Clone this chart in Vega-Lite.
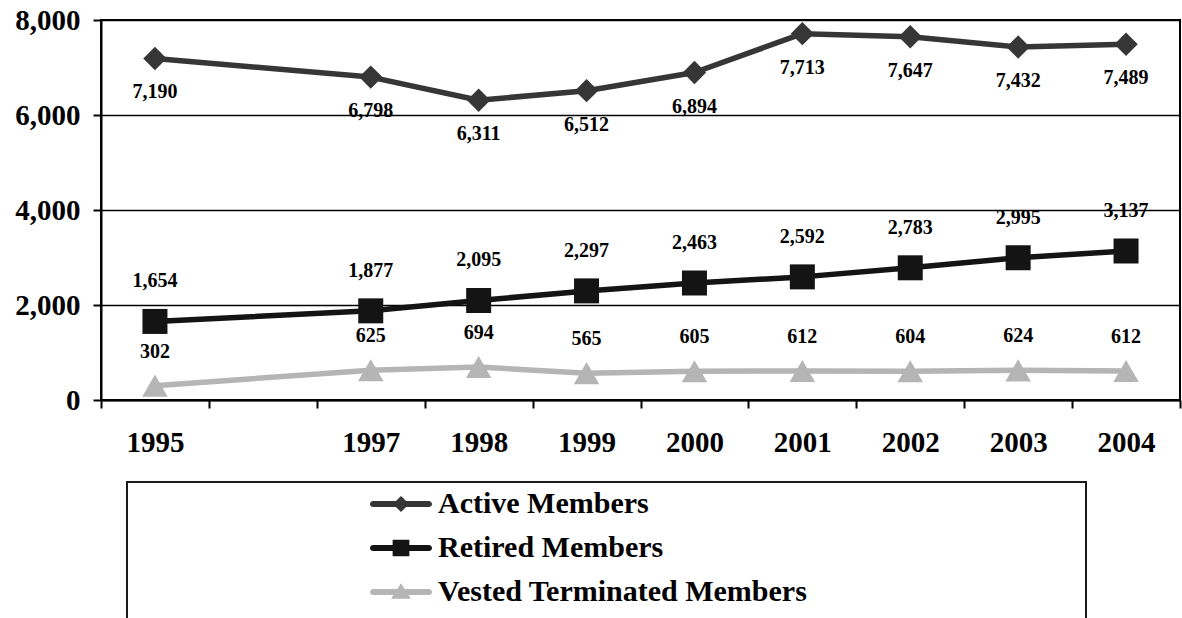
{
  "$schema": "https://vega.github.io/schema/vega-lite/v6.json",
  "width": 1079,
  "height": 380,
  "autosize": {"type": "none"},
  "padding": {"left": 101, "top": 20, "right": 2, "bottom": 218},
  "background": "white",
  "config": {
    "font": "Liberation Serif",
    "view": {"stroke": "black", "strokeWidth": 2}
  },
  "data": {
    "values": [
      {"year": "1995", "series": "Active Members", "value": 7190},
      {"year": "1997", "series": "Active Members", "value": 6798},
      {"year": "1998", "series": "Active Members", "value": 6311},
      {"year": "1999", "series": "Active Members", "value": 6512},
      {"year": "2000", "series": "Active Members", "value": 6894},
      {"year": "2001", "series": "Active Members", "value": 7713},
      {"year": "2002", "series": "Active Members", "value": 7647},
      {"year": "2003", "series": "Active Members", "value": 7432},
      {"year": "2004", "series": "Active Members", "value": 7489},
      {"year": "1995", "series": "Retired Members", "value": 1654},
      {"year": "1997", "series": "Retired Members", "value": 1877},
      {"year": "1998", "series": "Retired Members", "value": 2095},
      {"year": "1999", "series": "Retired Members", "value": 2297},
      {"year": "2000", "series": "Retired Members", "value": 2463},
      {"year": "2001", "series": "Retired Members", "value": 2592},
      {"year": "2002", "series": "Retired Members", "value": 2783},
      {"year": "2003", "series": "Retired Members", "value": 2995},
      {"year": "2004", "series": "Retired Members", "value": 3137},
      {"year": "1995", "series": "Vested Terminated Members", "value": 302},
      {"year": "1997", "series": "Vested Terminated Members", "value": 625},
      {"year": "1998", "series": "Vested Terminated Members", "value": 694},
      {"year": "1999", "series": "Vested Terminated Members", "value": 565},
      {"year": "2000", "series": "Vested Terminated Members", "value": 605},
      {"year": "2001", "series": "Vested Terminated Members", "value": 612},
      {"year": "2002", "series": "Vested Terminated Members", "value": 604},
      {"year": "2003", "series": "Vested Terminated Members", "value": 624},
      {"year": "2004", "series": "Vested Terminated Members", "value": 612}
    ]
  },
  "encoding": {
    "x": {
      "field": "year",
      "type": "ordinal",
      "sort": null,
      "scale": {
        "type": "band",
        "domain": ["1995", "1996", "1997", "1998", "1999", "2000", "2001", "2002", "2003", "2004"],
        "paddingInner": 0,
        "paddingOuter": 0
      },
      "axis": {
        "title": null,
        "labelExpr": "datum.value === '1996' ? '' : datum.label",
        "labelAngle": 0,
        "labelFont": "Liberation Serif",
        "labelFontSize": 29,
        "labelFontWeight": "bold",
        "labelColor": "black",
        "labelPadding": 20,
        "tickBand": "extent",
        "tickSize": 8,
        "tickWidth": 2,
        "tickColor": "black",
        "domainColor": "black",
        "domainWidth": 2,
        "grid": false
      }
    },
    "y": {
      "field": "value",
      "type": "quantitative",
      "scale": {"domain": [0, 8000], "nice": false},
      "axis": {
        "title": null,
        "values": [0, 2000, 4000, 6000, 8000],
        "format": ",.0f",
        "labelFont": "Liberation Serif",
        "labelFontSize": 29,
        "labelFontWeight": "bold",
        "labelColor": "black",
        "labelPadding": 13,
        "tickSize": 8,
        "tickWidth": 2,
        "tickColor": "black",
        "domainColor": "black",
        "domainWidth": 2,
        "grid": true,
        "gridColor": "black",
        "gridWidth": 1.5,
        "gridOpacity": 1
      }
    }
  },
  "layer": [
    {
      "mark": {"type": "line", "strokeWidth": 5.5, "strokeCap": "round", "strokeJoin": "round"},
      "encoding": {
        "color": {
          "field": "series",
          "type": "nominal",
          "scale": {
            "domain": ["Active Members", "Retired Members", "Vested Terminated Members"],
            "range": ["#363636", "#141414", "#b5b5b5"]
          },
          "legend": {
            "orient": "none",
            "legendX": 26,
            "legendY": 462,
            "title": " ",
            "titleOrient": "right",
            "titleAnchor": "end",
            "titleBaseline": "top",
            "titleLineHeight": 1,
            "titlePadding": 272,
            "titleFontSize": 40,
            "padding": 7,
            "symbolOffset": 236,
            "labelOffset": 6,
            "symbolSize": 3844,
            "clipHeight": 30,
            "rowPadding": 14,
            "labelFont": "Liberation Serif",
            "labelFontSize": 30,
            "labelFontWeight": "bold",
            "labelColor": "black",
            "labelLimit": 0,
            "strokeColor": "#1a1a1a",
            "fillColor": "white",
            "encoding": {
              "symbols": {
                "shape": {"value": {"expr": "datum.value === 'Active Members' ? 'M-0.9,-0.1L0.9,-0.1A0.1,0.1,0,0,1,0.9,0.1L-0.9,0.1A0.1,0.1,0,0,1,-0.9,-0.1ZM0,-0.26L0.26,0L0,0.26L-0.26,0Z' : datum.value === 'Retired Members' ? 'M-0.9,-0.1L0.9,-0.1A0.1,0.1,0,0,1,0.9,0.1L-0.9,0.1A0.1,0.1,0,0,1,-0.9,-0.1ZM-0.27,-0.27L0.27,-0.27L0.27,0.27L-0.27,0.27Z' : 'M-0.9,-0.1L0.9,-0.1A0.1,0.1,0,0,1,0.9,0.1L-0.9,0.1A0.1,0.1,0,0,1,-0.9,-0.1ZM0,-0.28L0.32,0.22L-0.32,0.22Z'"}},
                "fill": {"value": {"expr": "scale('color', datum.value)"}},
                "fillOpacity": {"value": 1},
                "stroke": {"value": "transparent"},
                "strokeWidth": {"value": 0},
                "size": {"value": 3844},
                "opacity": {"value": 1}
              },
              "legend": {"strokeWidth": {"value": 2}}
            }
          }
        }
      }
    },
    {
      "transform": [{"filter": "datum.series === 'Active Members'"}],
      "mark": {"type": "point", "filled": true, "opacity": 1, "strokeWidth": 0, "shape": "diamond", "size": 545, "color": "#363636"}
    },
    {
      "transform": [{"filter": "datum.series === 'Retired Members'"}],
      "mark": {"type": "point", "filled": true, "opacity": 1, "strokeWidth": 0, "shape": "square", "size": 625, "color": "#141414"}
    },
    {
      "transform": [{"filter": "datum.series === 'Vested Terminated Members'"}],
      "mark": {"type": "point", "filled": true, "opacity": 1, "strokeWidth": 0, "shape": "triangle-up", "size": 650, "color": "#b5b5b5"}
    },
    {
      "transform": [{"filter": "datum.series === 'Active Members'"}],
      "mark": {"type": "text", "font": "Liberation Serif", "fontSize": 20, "fontWeight": "bold", "color": "black", "baseline": "middle", "dy": 34},
      "encoding": {"text": {"field": "value", "type": "quantitative", "format": ","}}
    },
    {
      "transform": [{"filter": "datum.series === 'Retired Members'"}],
      "mark": {"type": "text", "font": "Liberation Serif", "fontSize": 20, "fontWeight": "bold", "color": "black", "baseline": "middle", "dy": -40},
      "encoding": {"text": {"field": "value", "type": "quantitative", "format": ","}}
    },
    {
      "transform": [{"filter": "datum.series === 'Vested Terminated Members'"}],
      "mark": {"type": "text", "font": "Liberation Serif", "fontSize": 20, "fontWeight": "bold", "color": "black", "baseline": "middle", "dy": -34},
      "encoding": {"text": {"field": "value", "type": "quantitative", "format": ","}}
    }
  ]
}
